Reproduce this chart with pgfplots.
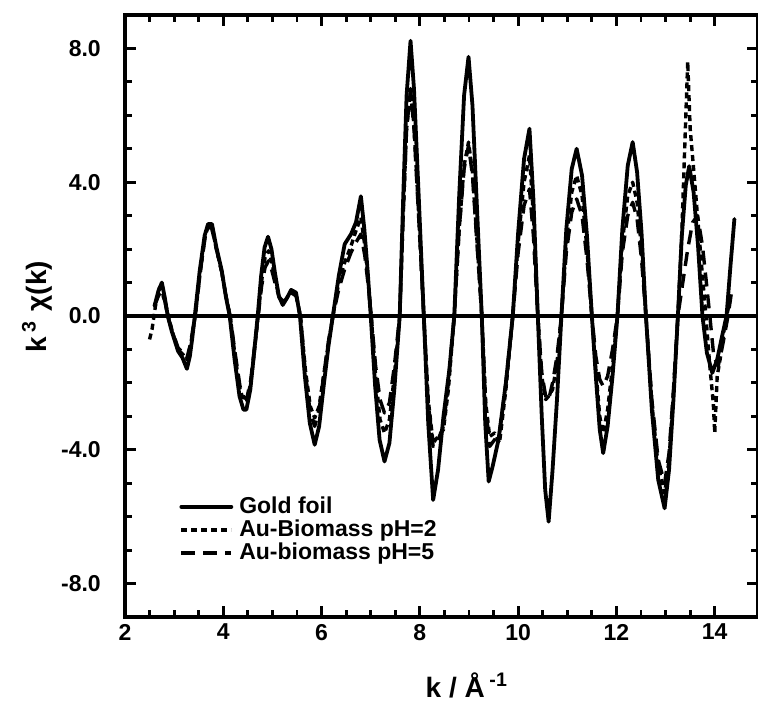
\documentclass[border=0pt]{standalone}
\usepackage{pgfplots}
\pgfplotsset{compat=1.18}
\usepackage{fontspec}
\setmainfont{Liberation Sans}
\newcommand{\lgf}{\bfseries\fontsize{11.5}{13}\selectfont}
\newcommand{\tkf}{\bfseries\fontsize{11.5}{13}\selectfont}

\begin{document}
\begin{tikzpicture}
\begin{axis}[
  scale only axis,
  width=316.5pt, height=301pt,
  xmin=2, xmax=14.88, ymin=-9, ymax=9,
  axis line style={line width=1.8pt},
  tick align=inside,
  tick pos=both,
  ticklabel pos=left,
  xtick={2,4,6,8,10,12,14},
  xticklabels={\tkf 2,\tkf 4,\tkf 6,\tkf 8,\tkf 10,\tkf 12,\tkf 14},
  ytick={-8,-4,0,4,8},
  yticklabels={{\tkf -8.0\hspace*{8.6pt}},{\tkf -4.0\hspace*{8.6pt}},{\tkf 0.0\hspace*{8.6pt}},{\tkf 4.0\hspace*{8.6pt}},{\tkf 8.0\hspace*{8.6pt}}},
  minor x tick num=3,
  minor y tick num=3,
  major tick length=5.5pt,
  minor tick length=3.5pt,
  every tick/.style={line width=1.4pt, black},
  xlabel={\bfseries\fontsize{14}{16}\selectfont k / Å\,\textsuperscript{-1}},
  ylabel={\bfseries\fontsize{14}{16}\selectfont k\,\textsuperscript{3}\,\,χ(k)},
  xlabel style={at={(axis description cs:0.54,-0.113)}, anchor=center},
  ylabel style={at={(axis description cs:-0.139,0.515)}, anchor=center},
  legend style={at={(axis cs:3.1,-5.35)}, anchor=north west, draw=none, fill=none,
    row sep=0pt, column sep=3pt, inner sep=0pt,
    nodes={inner sep=0pt, text height=9pt, text depth=2.5pt}},
  legend cell align=left,
  legend image code/.code={\draw[#1] (0pt,0pt) -- (25pt,0pt);},
  clip=false,
]
\addplot[forget plot, black, line width=1.6pt] coordinates {(2,0) (14.88,0)};

\addplot[black, line width=1.9pt, line join=round, line cap=round] coordinates {
(2.60,0.30) (2.68,0.75) (2.75,1.00) (2.81,0.55) (2.87,0.00) (2.95,-0.45) (3.08,-1.05) (3.17,-1.25) (3.26,-1.58) (3.32,-1.20) (3.37,-0.65) (3.42,0.00)
(3.52,1.35) (3.62,2.40) (3.69,2.75) (3.77,2.75) (3.86,2.05) (3.97,1.35) (4.05,0.60) (4.13,0.00)
(4.23,-1.30) (4.33,-2.40) (4.41,-2.80) (4.47,-2.80) (4.55,-2.20) (4.62,-1.20) (4.70,0.00)
(4.77,1.20) (4.84,2.05) (4.91,2.37) (4.98,2.00) (5.05,1.30) (5.13,0.60) (5.21,0.33) (5.30,0.55) (5.38,0.78) (5.48,0.70) (5.56,0.00)
(5.66,-1.80) (5.76,-3.20) (5.86,-3.85) (5.95,-3.30) (6.05,-2.00) (6.14,-0.90) (6.23,0.00)
(6.35,1.20) (6.47,2.15) (6.60,2.45) (6.70,2.80) (6.80,3.58) (6.87,2.60) (6.94,1.30) (7.00,0.00)
(7.09,-2.10) (7.18,-3.70) (7.28,-4.35) (7.38,-3.80) (7.48,-2.20) (7.59,0.00)
(7.66,3.50) (7.73,6.60) (7.81,8.23) (7.88,6.80) (7.97,3.80) (8.08,0.00)
(8.17,-3.20) (8.27,-5.50) (8.37,-4.60) (8.48,-3.00) (8.60,-1.60) (8.70,0.00)
(8.80,3.60) (8.90,6.60) (8.99,7.75) (9.07,6.30) (9.16,3.30) (9.26,0.00)
(9.33,-3.20) (9.40,-4.95) (9.48,-4.50) (9.60,-3.70) (9.75,-2.00) (9.89,0.00)
(10.00,2.50) (10.12,4.70) (10.23,5.60) (10.31,3.50) (10.40,0.00)
(10.48,-3.00) (10.55,-5.20) (10.62,-6.15) (10.70,-4.60) (10.79,-2.50) (10.88,0.00)
(10.98,2.60) (11.09,4.40) (11.19,5.00) (11.30,4.20) (11.40,2.40) (11.50,0.00)
(11.58,-1.80) (11.66,-3.40) (11.73,-4.10) (11.82,-3.30) (11.92,-1.80) (12.02,0.00)
(12.12,2.60) (12.23,4.50) (12.33,5.20) (12.42,4.30) (12.51,2.50) (12.60,0.00)
(12.72,-2.80) (12.85,-4.90) (12.98,-5.75) (13.07,-4.60) (13.16,-2.50) (13.25,0.00)
(13.33,2.40) (13.41,3.90) (13.48,4.48) (13.57,3.70) (13.66,2.10) (13.75,0.00)
(13.84,-1.10) (13.95,-1.70) (14.05,-1.30) (14.15,-0.60) (14.24,0.00) (14.32,1.50) (14.40,2.90)
};
\addlegendentry{\lgf Gold foil}

\addplot[black, line width=1.7pt, dash pattern=on 3pt off 2pt, line join=round] coordinates {
(2.50,-0.70) (2.55,-0.40) (2.62,0.30) (2.70,0.85) (2.76,0.70) (2.82,0.40) (2.88,0.00) (2.97,-0.50) (3.08,-1.00) (3.18,-1.15) (3.26,-1.30) (3.33,-0.90) (3.38,-0.45) (3.43,0.00)
(3.53,1.30) (3.63,2.40) (3.70,2.70) (3.76,2.70) (3.86,2.00) (3.97,1.30) (4.06,0.55) (4.14,0.00)
(4.24,-1.20) (4.34,-2.20) (4.42,-2.55) (4.48,-2.50) (4.56,-2.00) (4.63,-1.10) (4.71,0.00)
(4.78,1.05) (4.85,1.75) (4.92,1.95) (4.99,1.60) (5.06,1.05) (5.14,0.55) (5.22,0.40) (5.30,0.55) (5.38,0.75) (5.48,0.65) (5.57,0.00)
(5.67,-1.60) (5.77,-2.70) (5.86,-3.05) (5.95,-2.70) (6.05,-1.70) (6.14,-0.80) (6.23,0.00)
(6.35,1.00) (6.47,1.60) (6.60,2.10) (6.70,2.55) (6.80,2.95) (6.88,2.10) (6.95,1.00) (7.01,0.00)
(7.10,-1.80) (7.19,-3.10) (7.28,-3.50) (7.38,-3.10) (7.48,-1.80) (7.59,0.00)
(7.66,3.00) (7.73,5.60) (7.81,6.80) (7.88,5.70) (7.97,3.20) (8.08,0.00)
(8.17,-2.50) (8.27,-3.80) (8.37,-3.60) (8.48,-3.40) (8.58,-2.20) (8.70,0.00)
(8.80,2.60) (8.90,4.50) (8.99,5.20) (9.07,4.30) (9.16,2.30) (9.26,0.00)
(9.34,-2.60) (9.42,-3.60) (9.52,-3.50) (9.62,-3.80) (9.75,-2.20) (9.89,0.00)
(10.00,2.20) (10.12,4.00) (10.23,4.80) (10.31,3.00) (10.40,0.00)
(10.48,-1.80) (10.56,-2.50) (10.62,-2.40) (10.70,-2.20) (10.79,-1.40) (10.88,0.00)
(10.98,2.20) (11.09,3.70) (11.19,4.20) (11.30,3.60) (11.40,2.00) (11.50,0.00)
(11.58,-1.60) (11.66,-3.00) (11.73,-3.50) (11.82,-2.80) (11.92,-1.50) (12.02,0.00)
(12.12,2.20) (12.23,3.60) (12.33,4.00) (12.42,3.40) (12.51,2.00) (12.60,0.00)
(12.72,-2.60) (12.85,-4.50) (12.98,-5.30) (13.07,-4.30) (13.16,-2.30) (13.25,0.00)
(13.33,2.50) (13.40,5.50) (13.45,7.60) (13.50,5.60) (13.57,4.40) (13.66,2.80) (13.75,1.20) (13.82,0.00)
(13.90,-1.50) (13.97,-2.60) (14.00,-3.50) (14.05,-1.80) (14.12,-1.20) (14.20,-0.30) (14.30,0.40)
};
\addlegendentry{\lgf Au-Biomass pH=2}

\addplot[black, line width=1.7pt, dash pattern=on 7pt off 4pt, line join=round] coordinates {
(2.60,0.30) (2.68,0.60) (2.74,0.75) (2.81,0.45) (2.87,0.00) (2.95,-0.40) (3.08,-0.95) (3.18,-1.10) (3.26,-1.25) (3.33,-0.85) (3.38,-0.40) (3.43,0.00)
(3.53,1.30) (3.63,2.35) (3.70,2.65) (3.76,2.65) (3.86,2.00) (3.97,1.30) (4.06,0.55) (4.14,0.00)
(4.24,-1.10) (4.34,-2.10) (4.42,-2.45) (4.48,-2.45) (4.56,-1.90) (4.63,-1.00) (4.71,0.00)
(4.78,0.90) (4.85,1.45) (4.92,1.65) (4.99,1.35) (5.06,0.95) (5.14,0.55) (5.22,0.45) (5.30,0.55) (5.38,0.70) (5.48,0.60) (5.57,0.00)
(5.67,-1.70) (5.77,-2.90) (5.86,-3.30) (5.95,-2.80) (6.05,-1.70) (6.14,-0.75) (6.23,0.00)
(6.35,0.80) (6.47,1.40) (6.60,1.90) (6.70,2.20) (6.80,2.45) (6.88,1.80) (6.95,0.90) (7.01,0.00)
(7.10,-1.50) (7.19,-2.50) (7.28,-2.90) (7.38,-2.60) (7.48,-1.50) (7.59,0.00)
(7.66,3.00) (7.73,5.60) (7.81,6.75) (7.88,5.60) (7.97,3.10) (8.08,0.00)
(8.17,-2.60) (8.27,-3.90) (8.37,-3.70) (8.48,-3.30) (8.58,-2.00) (8.70,0.00)
(8.80,2.60) (8.90,4.40) (8.99,5.10) (9.07,4.20) (9.16,2.20) (9.26,0.00)
(9.34,-2.70) (9.42,-3.90) (9.52,-3.70) (9.62,-3.50) (9.75,-2.00) (9.89,0.00)
(10.00,1.90) (10.12,3.30) (10.23,3.80) (10.31,2.40) (10.40,0.00)
(10.48,-1.70) (10.56,-2.40) (10.62,-2.50) (10.70,-2.00) (10.79,-1.20) (10.88,0.00)
(10.98,1.90) (11.09,3.10) (11.19,3.50) (11.30,3.00) (11.40,1.70) (11.50,0.00)
(11.58,-1.20) (11.66,-1.90) (11.73,-2.10) (11.82,-1.80) (11.92,-1.00) (12.02,0.00)
(12.12,1.90) (12.23,3.00) (12.33,3.40) (12.42,2.90) (12.51,1.70) (12.60,0.00)
(12.72,-2.50) (12.85,-4.30) (12.98,-5.00) (13.07,-4.10) (13.16,-2.20) (13.25,0.00)
(13.35,1.00) (13.45,2.00) (13.55,2.80) (13.65,3.00) (13.75,2.10) (13.83,1.00) (13.90,0.00)
(13.98,-1.20) (14.07,-1.50) (14.17,-0.80) (14.27,0.00) (14.35,0.80)
};
\addlegendentry{\lgf Au-biomass pH=5}
\end{axis}
\pgfresetboundingbox
\path ([shift={(-62.5pt,-42.5pt)}]current axis.south west) rectangle ([shift={(0pt,7.5pt)}]current axis.north east);
\end{tikzpicture}
\end{document}
